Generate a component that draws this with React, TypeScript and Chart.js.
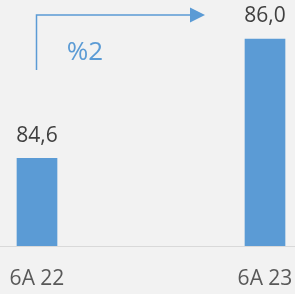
import React, { useEffect, useRef } from 'react';
import { Chart, registerables } from 'chart.js';

Chart.register(...registerables);

const categories = ['6A 22', '6A 23'];
const values = [84.6, 86.0];
const changeLabel = '%2';
const Y_MIN = 83.56;
const Y_MAX = 86.34;

export default function App() {
  const ref = useRef<HTMLCanvasElement>(null);

  useEffect(() => {
    document.body.style.margin = '0';
    document.body.style.background = '#F2F2F2';
    const canvas = ref.current;
    if (!canvas) return;

    const overlay = {
      id: 'overlay',
      afterDatasetsDraw(chart: any) {
        const ctx = chart.ctx;
        const meta = chart.getDatasetMeta(0);
        const area = chart.chartArea;
        ctx.save();
        // baseline across full width
        ctx.strokeStyle = '#D9D9D9';
        ctx.lineWidth = 1;
        const by = Math.round(area.bottom) - 0.5;
        ctx.beginPath();
        ctx.moveTo(0, by);
        ctx.lineTo(chart.width, by);
        ctx.stroke();
        // value labels
        ctx.font = '21px "Open Sans"';
        ctx.fillStyle = '#404040';
        ctx.textAlign = 'center';
        ctx.textBaseline = 'alphabetic';
        meta.data.forEach((bar: any, i: number) => {
          ctx.fillText(values[i].toFixed(1).replace('.', ','), bar.x, bar.y - 16.5);
        });
        // arrow annotation
        const b0 = meta.data[0];
        const b1 = meta.data[1];
        const x0 = Math.round(b0.x) - 0.5;
        const yBottom = 70;
        const yTop = 15;
        const tipX = b1.x - 60;
        const headLen = 15;
        const headHalf = 7.5;
        ctx.strokeStyle = '#5B9BD5';
        ctx.fillStyle = '#5B9BD5';
        ctx.lineWidth = 1.5;
        ctx.beginPath();
        ctx.moveTo(x0, yBottom);
        ctx.lineTo(x0, yTop);
        ctx.lineTo(tipX - headLen + 1, yTop);
        ctx.stroke();
        ctx.beginPath();
        ctx.moveTo(tipX, yTop);
        ctx.lineTo(tipX - headLen, yTop - headHalf);
        ctx.lineTo(tipX - headLen, yTop + headHalf);
        ctx.closePath();
        ctx.fill();
        ctx.font = '26px "Open Sans"';
        ctx.textAlign = 'center';
        ctx.textBaseline = 'middle';
        ctx.fillText(changeLabel, b0.x + 48, 53);
        ctx.restore();
      },
    };

    const chart = new Chart(canvas, {
      type: 'bar',
      data: {
        labels: categories,
        datasets: [
          {
            data: values,
            backgroundColor: '#5B9BD5',
            barThickness: 40,
            clip: { left: 100, right: 100, top: 100, bottom: 0 } as any,
          },
        ],
      },
      options: {
        animation: false,
        responsive: true,
        maintainAspectRatio: false,
        layout: { padding: { left: 37, right: 30, top: 10, bottom: 0 } },
        plugins: { legend: { display: false }, tooltip: { enabled: false } },
        scales: {
          x: {
            offset: false,
            grid: { display: false, drawTicks: false },
            border: { display: false },
            ticks: {
              color: '#595959',
              font: { family: 'Open Sans', size: 21 },
              padding: 19,
              maxRotation: 0,
              autoSkip: false,
            },
            afterFit: (scale: any) => {
              scale.height = 47;
              scale.paddingLeft = 0;
              scale.paddingRight = 0;
              scale.paddingTop = 0;
              scale.paddingBottom = 0;
            },
          },
          y: {
            display: false,
            min: Y_MIN,
            max: Y_MAX,
          },
        },
      },
      plugins: [overlay],
    });
    return () => chart.destroy();
  }, []);

  return (
    <div style={{ width: 295, height: 294, position: 'relative', background: '#F2F2F2' }}>
      <canvas ref={ref} />
    </div>
  );
}
